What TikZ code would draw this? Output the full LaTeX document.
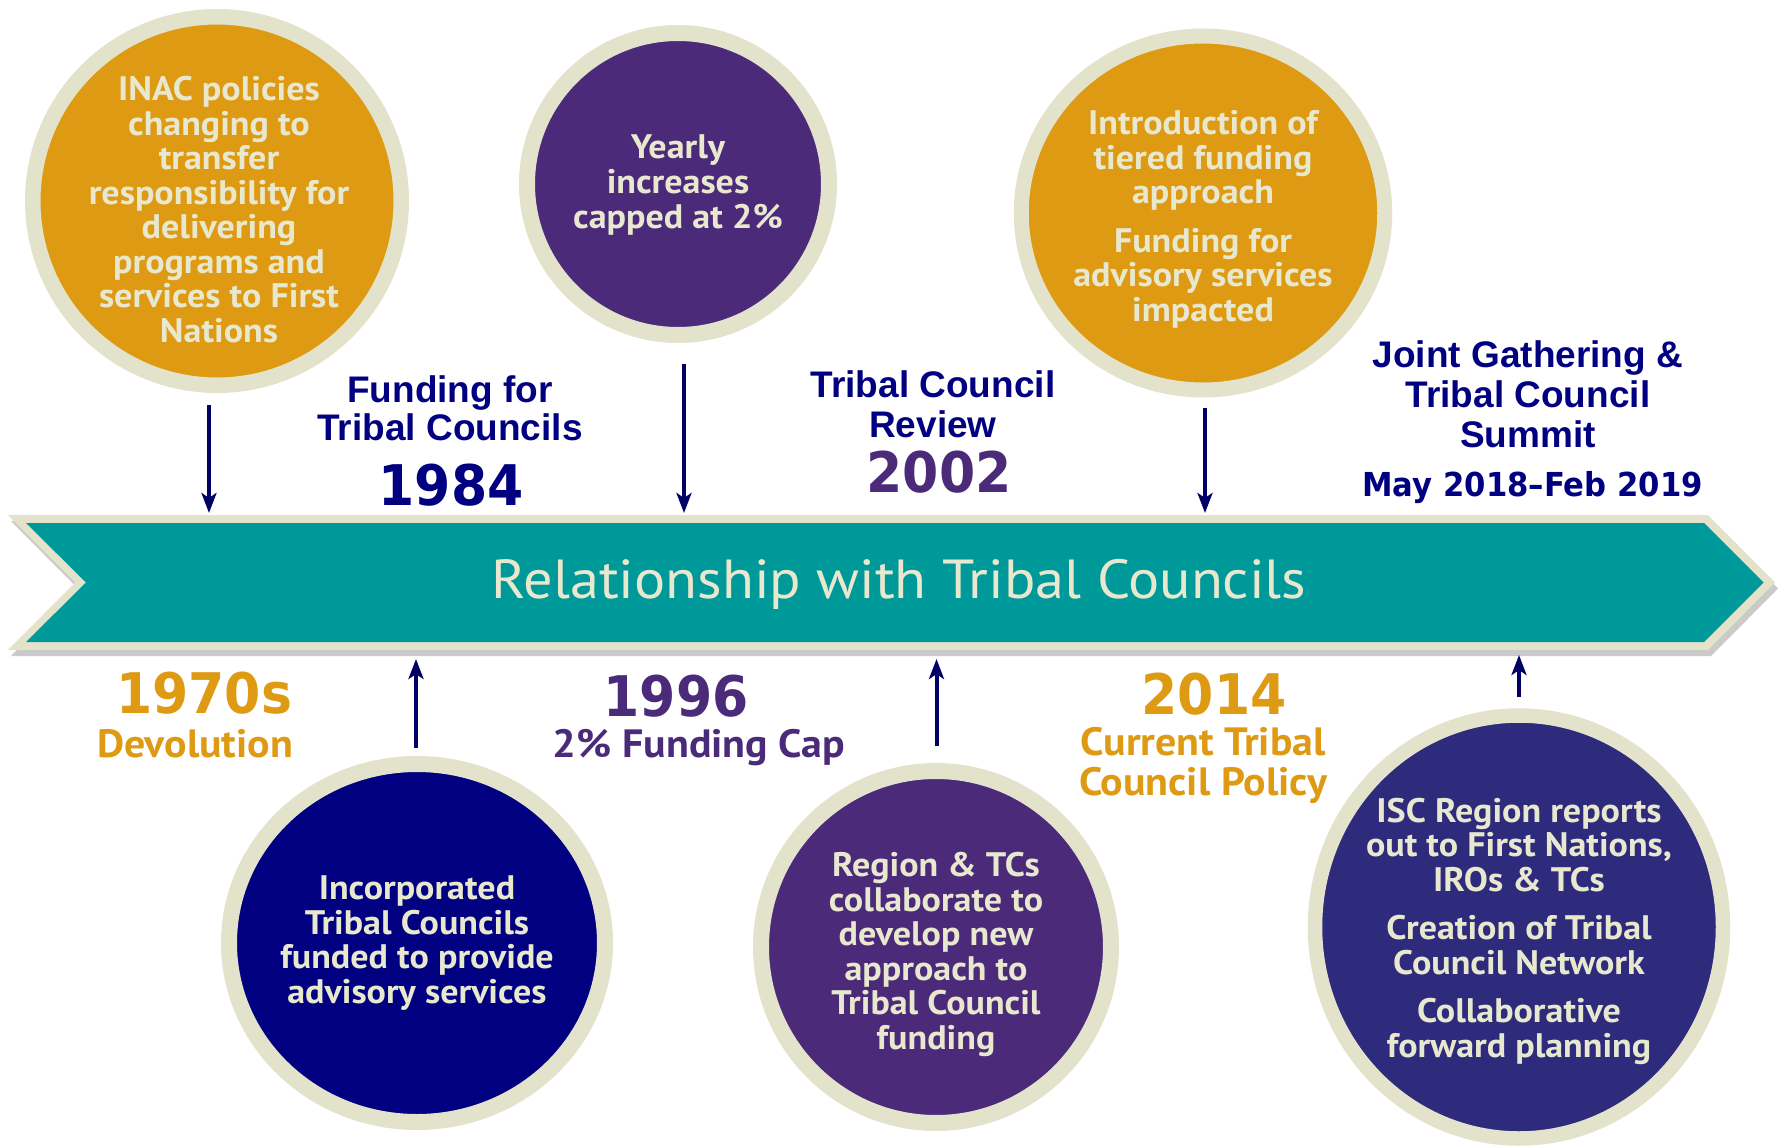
\documentclass[tikz,border=0pt]{standalone}
\usepackage{fontspec}
\setmainfont{PT Sans}
\newfontfamily\circfont[FakeStretch=1.06]{PT Sans}
\newfontfamily\arialfont{Liberation Sans}
\newfontfamily\yearfont[FakeStretch=0.93]{DejaVu Sans}
\usetikzlibrary{arrows.meta,shapes.geometric}
\definecolor{ring}{RGB}{227,227,204}
\definecolor{txt}{RGB}{232,232,207}
\definecolor{orng}{RGB}{222,154,18}
\definecolor{purp}{RGB}{75,42,122}
\definecolor{navycirc}{RGB}{0,0,128}
\definecolor{indigocirc}{RGB}{46,42,124}
\definecolor{bannerteal}{RGB}{0,153,153}
\definecolor{arrowblue}{RGB}{0,0,102}
\definecolor{labelblue}{RGB}{0,0,128}
\tikzset{
  bubble/.style={ellipse, draw=ring, inner sep=0pt},
  ctext/.style={font=\circfont\bfseries\fontsize{34}{34.5}\selectfont, text=txt, align=center, anchor=base, inner sep=0pt},
  arr/.style={draw=arrowblue, line width=4pt, -{Stealth[length=20pt,width=15pt,inset=5pt]}},
  bluelbl/.style={font=\arialfont\bfseries\fontsize{37}{40}\selectfont, text=labelblue, align=center, anchor=base, inner sep=0pt},
  yearlbl/.style={font=\yearfont\bfseries\fontsize{56}{60}\selectfont, anchor=base, inner sep=0pt},
  sublbl/.style={font=\circfont\bfseries\fontsize{39.5}{40}\selectfont, align=center, anchor=base, inner sep=0pt},
}
\begin{document}
\begin{tikzpicture}[x=1pt,y=-1pt]
\useasboundingbox (0,0) rectangle (1781,1146);
% banner
\fill[gray!70, opacity=0.6] (11,521) -- (1711,521) -- (1778,588.5) -- (1711,656) -- (11,656) -- (78,588.5) -- cycle;
\fill[ring] (8,515) -- (1708,515) -- (1775,582.5) -- (1708,650) -- (8,650) -- (75,582.5) -- cycle;
\fill[bannerteal] (26,523) -- (1704,523) -- (1763.5,582.5) -- (1704,642) -- (26,642) -- (86,582.5) -- cycle;
\node[font=\circfont\fontsize{55}{60}\selectfont, text=txt, anchor=base, inner sep=0pt] (title) at (899,598.5) {Relationship with Tribal Councils};
% bubbles
\node[bubble, fill=orng, line width=15.5pt, minimum width=368.5pt, minimum height=368.5pt] (c1) at (217,201) {};
\node[bubble, fill=purp, line width=16pt, minimum width=302pt, minimum height=302pt] (c2) at (678,184) {};
\node[bubble, fill=orng, line width=15pt, minimum width=363.5pt, minimum height=354pt] (c3) at (1203,213) {};
\node[bubble, fill=navycirc, line width=16pt, minimum width=376pt, minimum height=358pt] (c4) at (417,943) {};
\node[bubble, fill=purp, line width=16pt, minimum width=350pt, minimum height=352pt] (c5) at (936,947) {};
\node[bubble, fill=indigocirc, line width=14.5pt, minimum width=408pt, minimum height=423pt] (c6) at (1519,927) {};
% bubble texts (anchor base = last line)
\node[ctext] (t1) at (219,342) {INAC policies\\changing to\\transfer\\responsibility for\\delivering\\programs and\\services to First\\Nations};
\node[ctext, font=\circfont\bfseries\fontsize{34}{35}\selectfont] (t2) at (678,228) {Yearly\\increases\\capped at 2\%};
\node[ctext] (t3) at (1203,321) {Introduction of\\tiered funding\\approach\\[14pt]Funding for\\advisory services\\impacted};
\node[ctext] (t4) at (417,1003) {Incorporated\\Tribal Councils\\funded to provide\\advisory services};
\node[ctext] (t5) at (936,1049) {Region \& TCs\\collaborate to\\develop new\\approach to\\Tribal Council\\funding};
\node[ctext] (t6) at (1519,1057) {ISC Region reports\\out to First Nations,\\IROs \& TCs\\[14pt]Creation of Tribal\\Council Network\\[14pt]Collaborative\\forward planning};
% top labels
\node[bluelbl, font=\arialfont\bfseries\fontsize{37}{38}\selectfont] (l1984) at (450,440) {Funding for\\Tribal Councils};
\node[yearlbl, text=labelblue] (y1984) at (451,505.5) {1984};
\node[bluelbl] (l2002) at (933,437) {Tribal Council\\Review};
\node[yearlbl, text=purp] (y2002) at (939,492) {2002};
\node[bluelbl] (lsummit) at (1528,447) {Joint Gathering \&\\Tribal Council\\Summit};
\node[yearlbl, text=labelblue, font=\yearfont\bfseries\fontsize{33}{36}\selectfont] (ysummit) at (1532.5,496) {May 2018–Feb 2019};
% bottom labels
\node[yearlbl, text=orng] (y1970) at (204,713) {1970s};
\node[sublbl, text=orng] (l1970) at (195,757) {Devolution};
\node[yearlbl, text=purp] (y1996) at (676,716) {1996};
\node[sublbl, text=purp] (l1996) at (699,757) {2\% Funding Cap};
\node[yearlbl, text=orng] (y2014) at (1214,714) {2014};
\node[sublbl, text=orng] (l2014) at (1203,795) {Current Tribal\\Council Policy};
% arrow ends on banner
\coordinate (a1) at (209,513);
\coordinate (a2) at (684,513);
\coordinate (a3) at (1205,513);
\coordinate (b4) at (416,659);
\coordinate (b5) at (936.5,659);
\coordinate (b6) at (1519,655);
\draw[arr, shorten <=12pt] (c1.south -| a1) -- (a1);
\draw[arr, shorten <=21pt] (c2.south -| a2) -- (a2);
\draw[arr, shorten <=10pt] (c3.south -| a3) -- (a3);
\draw[arr, shorten <=8pt] (c4.north -| b4) -- (b4);
\draw[arr, shorten <=17pt] (c5.north -| b5) -- (b5);
\draw[arr, shorten <=11pt] (c6.north -| b6) -- (b6);
\end{tikzpicture}
\end{document}
